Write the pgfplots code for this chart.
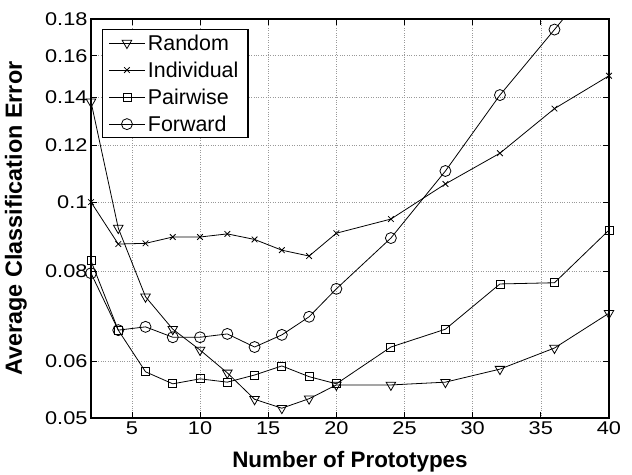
\documentclass[border=0pt]{standalone}
\usepackage{pgfplots}
\pgfplotsset{compat=1.18}
\usepackage{fontspec}
\setmainfont{Liberation Sans}
\usepackage{graphicx}
\newcommand\sx[1]{\scalebox{1.18}[1]{#1}}
\newcommand\legtext[1]{{\fontsize{21.5}{24}\selectfont #1}}
\begin{document}
\begin{tikzpicture}
\begin{axis}[
 scale only axis, width=518bp, height=399bp,
 xmin=2, xmax=40, ymode=log, ymin=0.05, ymax=0.18,
 xtick={5,10,15,20,25,30,35,40},
 xticklabels={\sx{5},\sx{10},\sx{15},\sx{20},\sx{25},\sx{30},\sx{35},\sx{40}},
 ytick={0.05,0.06,0.08,0.1,0.12,0.14,0.16,0.18},
 yticklabels={\sx{0.05},\sx{0.06},\sx{0.08},\sx{0.1},\sx{0.12},\sx{0.14},\sx{0.16},\sx{0.18}},
 minor ytick={}, minor xtick={},
 grid=major, grid style={dotted, gray!80, line width=0.6pt},
 tick align=inside, major tick length=6bp,
 axis line style={line width=1.3pt},
 every tick/.style={black, line width=0.7pt},
 ticklabel style={font=\fontsize{18.5}{20}\selectfont},
 xlabel={\fontsize{22.5}{24}\selectfont\bfseries Number of Prototypes},
 ylabel={\fontsize{23.5}{26}\selectfont\bfseries Average Classification Error},
 xlabel style={at={(axis description cs:0.5,0)}, anchor=base, yshift=-49bp},
 ylabel style={at={(axis description cs:-0.145,0.5)}, anchor=center},
 legend style={at={(rel axis cs:0.021,0.975)}, anchor=north west, draw=black, line width=1.2pt,
   row sep=8bp, inner xsep=6.5bp, inner ysep=4bp, nodes={inner xsep=3bp, inner ysep=1bp}},
 legend cell align=left,
 legend image code/.code={\draw[mark repeat=2,mark phase=2,line width=0.8pt] plot coordinates {(0cm,0cm) (0.62cm,0cm) (1.24cm,0cm)};},
]
\addplot[black, line width=0.8pt, mark=triangle, mark size=5.5bp, mark options={rotate=180, solid}] coordinates {
(2,0.138) (4,0.092) (6,0.0738) (8,0.0665) (10,0.0622) (12,0.0578) (14,0.0531) (16,0.0516) (18,0.0532) (20,0.0556) (24,0.0556) (28,0.0561) (32,0.0585) (36,0.0626) (40,0.0700)};
\addlegendentry{\legtext{Random}}
\addplot[black, line width=0.8pt, mark=x, mark size=4bp] coordinates {
(2,0.100) (4,0.0874) (6,0.0876) (8,0.0894) (10,0.0894) (12,0.0903) (14,0.0887) (16,0.0857) (18,0.0841) (20,0.0905) (24,0.0947) (28,0.106) (32,0.117) (36,0.135) (40,0.150)};
\addlegendentry{\legtext{Individual}}
\addplot[black, line width=0.8pt, mark=square, mark size=4bp] coordinates {
(2,0.0828) (4,0.0663) (6,0.0580) (8,0.0558) (10,0.0567) (12,0.0561) (14,0.0574) (16,0.0591) (18,0.0571) (20,0.0558) (24,0.0628) (28,0.0665) (32,0.0769) (36,0.0772) (40,0.0914)};
\addlegendentry{\legtext{Pairwise}}
\addplot[black, line width=0.8pt, mark=o, mark size=5.5bp] coordinates {
(2,0.0796) (4,0.0663) (6,0.0670) (8,0.0648) (10,0.0648) (12,0.0655) (14,0.0628) (16,0.0653) (18,0.0692) (20,0.0757) (24,0.0891) (28,0.1105) (32,0.141) (36,0.174) (40,0.215)};
\addlegendentry{\legtext{Forward}}
\end{axis}
\path (current axis.south west) ++(-91bp,-57bp) rectangle ++(632bp,475bp);
\end{tikzpicture}
\end{document}
